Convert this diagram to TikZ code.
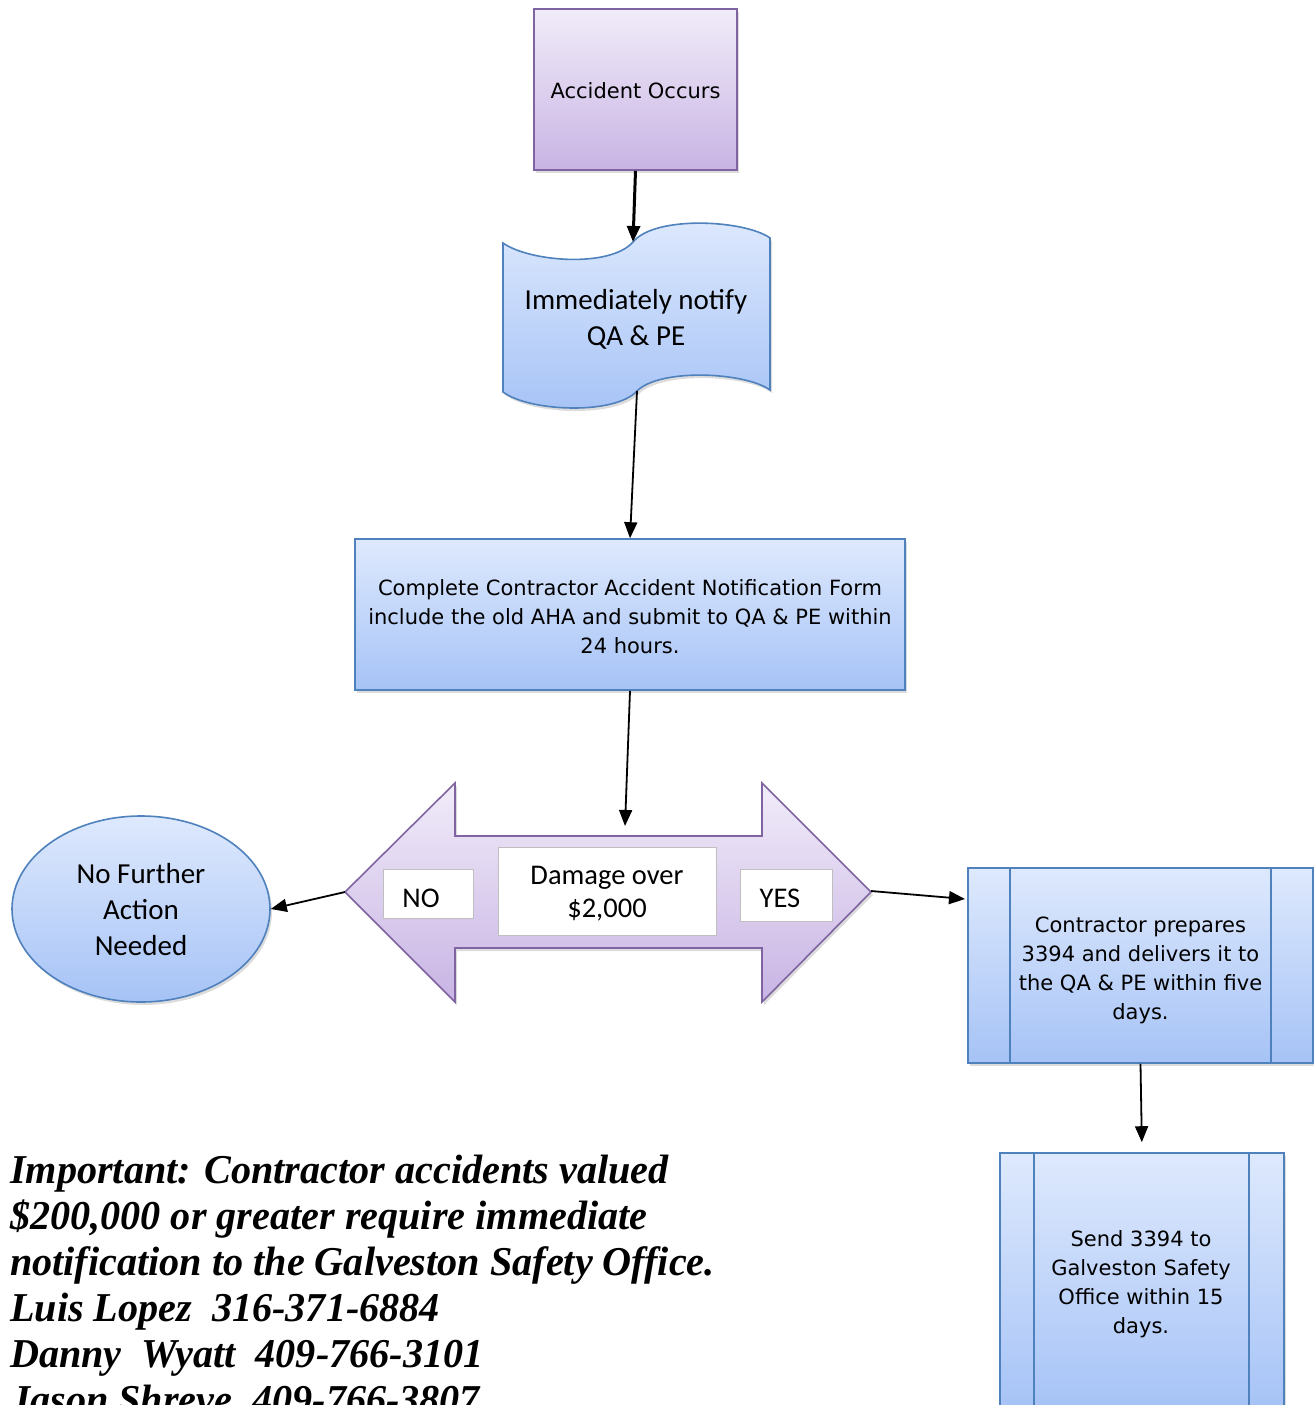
\documentclass[tikz,border=0pt]{standalone}
\usepackage{fontspec}
\usetikzlibrary{shapes.geometric,shadows,arrows.meta,calc}
\newfontfamily\tahfont{DejaVu Sans}
\newfontfamily\calfont{Carlito}
\newfontfamily\cambfont[FakeStretch=0.98]{Liberation Serif}
\definecolor{purpT}{HTML}{F1ECF9}
\definecolor{purpBot}{HTML}{C8B4E4}
\definecolor{purpB}{HTML}{8064A2}
\definecolor{blueT}{HTML}{DEE9FD}
\definecolor{blueBot}{HTML}{A6C3F6}
\definecolor{blueB}{HTML}{4F81BD}
\begin{document}
\begin{tikzpicture}[x=1pt,y=-1pt,
  shad/.style={drop shadow={opacity=0.28,shadow xshift=2pt,shadow yshift=-3pt}},
  purplebox/.style={draw=purpB,line width=1.6pt,top color=purpT,bottom color=purpBot,shad},
  bluebox/.style={draw=blueB,line width=1.6pt,top color=blueT,bottom color=blueBot,shad},
  labelbox/.style={draw=black!25,fill=white,line width=1pt,inner sep=0pt},
  conn/.style={-{Triangle[length=16pt,width=13pt]},line width=1.8pt},
  tahtext/.style={font=\tahfont\fontsize{21}{29}\selectfont,align=center,inner sep=0pt},
  caltext/.style={font=\calfont\fontsize{29}{36}\selectfont,align=center,inner sep=0pt},
  decotext/.style={font=\calfont\fontsize{28.5}{33}\selectfont,align=center,inner sep=0pt}]
\useasboundingbox (0,0) rectangle (1314,1405);
\clip (0,0) rectangle (1314,1405);

% Accident occurs
\node[purplebox,minimum width=203pt,minimum height=161pt] (acc) at (635.5,89.5) {};
\node[tahtext] (acctext) at (635.5,91) {Accident Occurs};

% punched tape
\path[bluebox] (503,243) .. controls (530,262) and (610,268) .. (633,242)
  .. controls (655,215) and (745,220) .. (770,238) -- (770,390)
  .. controls (745,372) and (660,368) .. (637,391)
  .. controls (615,415) and (530,412) .. (503,392) -- cycle;
\coordinate (tapetop) at (633,242);
\coordinate (tapebot) at (637,391);
\node[caltext] (tape) at (636,319) {Immediately notify\\QA \& PE};

% form box
\node[bluebox,minimum width=550pt,minimum height=151pt] (form) at (630,614.5) {};
\node[tahtext] (formtext) at (630,617)
  {Complete Contractor Accident Notification Form\\include the old AHA and submit to QA \& PE within\\24 hours.};

% double arrow
\path[purplebox] (345,892) -- (455,783) -- (455,836) -- (762,836) -- (762,783) -- (871,892)
  -- (762,1002) -- (762,948) -- (455,948) -- (455,1002) -- cycle;
\coordinate (leftTip) at (345,892);
\coordinate (rightTip) at (871,891);
\coordinate (decTop) at (625,826);
\node[labelbox,minimum width=218pt,minimum height=88pt] (dmg) at (607,891) {};
\node[decotext] (dmgtext) at (607,894) {Damage over\\\$2,000};
\node[labelbox,minimum width=90pt,minimum height=49pt] (no) at (428,893.5) {};
\node[decotext] (notext) at (421,898) {NO};
\node[labelbox,minimum width=92pt,minimum height=52pt] (yes) at (786,895) {};
\node[decotext] (yestext) at (780,898) {YES};

% ellipse
\node[bluebox,ellipse,minimum width=258pt,minimum height=186pt,inner sep=0pt] (nfa) at (141,909) {};
\node[caltext] (nfatext) at (141,910) {No Further\\Action\\Needed};

% contractor box
\node[bluebox,minimum width=345pt,minimum height=195pt] (contr) at (1140.5,965.5) {};
\node[tahtext] (contrtext) at (1140.5,970)
  {Contractor prepares\\3394 and delivers it to\\the QA \& PE within five\\days.};
\draw[blueB,line width=1.6pt] ($(contr.north west)+(43,0)$) -- ($(contr.south west)+(43,0)$);
\draw[blueB,line width=1.6pt] ($(contr.north east)+(-43,0)$) -- ($(contr.south east)+(-43,0)$);
\coordinate (yesEnd) at (965,899);

% send box
\node[bluebox,minimum width=284pt,minimum height=256pt] (send) at (1142,1281) {};
\node[tahtext] (sendtext) at (1141,1284)
  {Send 3394 to\\Galveston Safety\\Office within 15\\days.};
\draw[blueB,line width=1.6pt] ($(send.north west)+(35,0)$) -- ($(send.south west)+(35,0)$);
\draw[blueB,line width=1.6pt] ($(send.north east)+(-36,0)$) -- ($(send.south east)+(-36,0)$);

% connectors
\draw[conn,line width=3pt] (acc.south) -- (tapetop);
\draw[conn] (tapebot) -- (form.north);
\draw[conn] (form.south) -- (decTop);
\draw[conn] (leftTip) -- (nfa.east);
\draw[conn] (rightTip) -- (yesEnd);
\draw[conn,shorten >=10pt] (contr.south) -- (send.north);

% note
\node[anchor=north west,inner sep=0pt,align=left,font=\cambfont\bfseries\itshape\fontsize{41}{46}\selectfont] (note) at (10,1155)
  {Important: Contractor accidents valued\\
   \$200,000 or greater require immediate\\
   notification to the Galveston Safety Office.\\
   Luis Lopez\ \ 316-371-6884\\
   Danny\ \ Wyatt\ \ 409-766-3101\\
   Jason Shreve\ \ 409-766-3807};
\end{tikzpicture}
\end{document}
